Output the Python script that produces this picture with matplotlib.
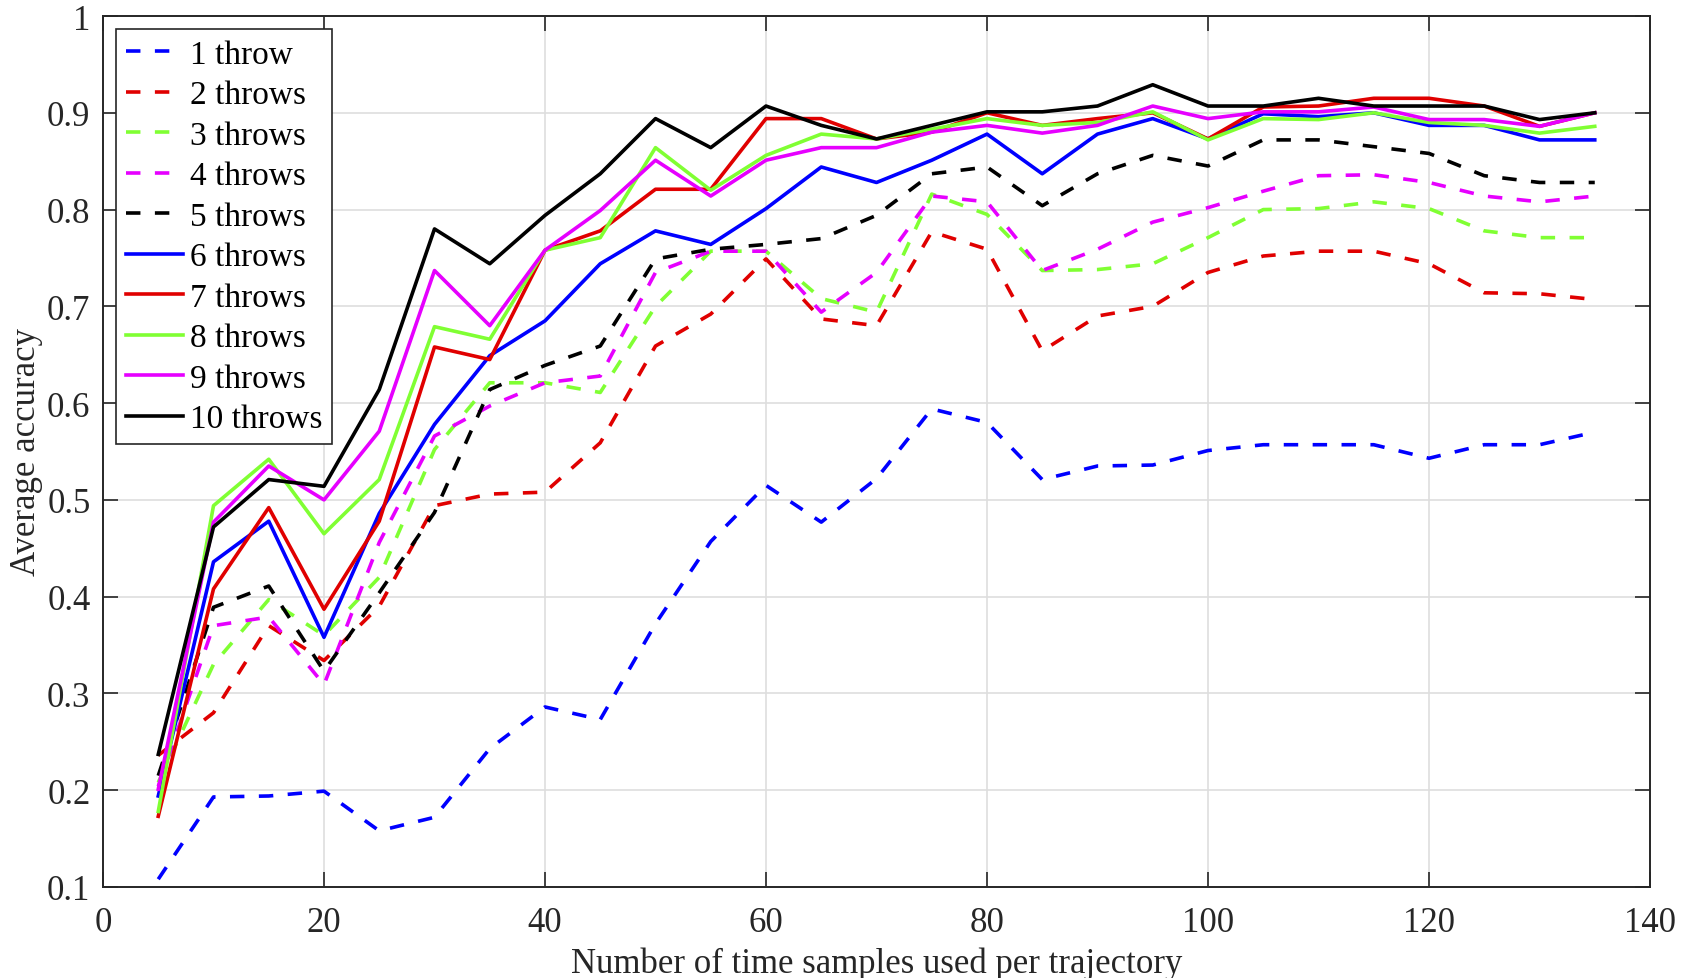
import matplotlib
matplotlib.use("Agg")
import matplotlib.pyplot as plt

plt.rcParams['font.family'] = ['Liberation Serif', 'DejaVu Serif']

samples = [5, 10, 15, 20, 25, 30, 35, 40, 45, 50, 55, 60, 65, 70,
           75, 80, 85, 90, 95, 100, 105, 110, 115, 120, 125, 130, 135]

t1 = [0.108, 0.193, 0.194, 0.199, 0.158, 0.172, 0.243, 0.286, 0.273, 0.372, 0.457, 0.515, 0.477, 0.522,
      0.594, 0.580, 0.521, 0.535, 0.536, 0.551, 0.557, 0.557, 0.557, 0.543, 0.557, 0.557, 0.570]
t2 = [0.236, 0.280, 0.370, 0.334, 0.390, 0.494, 0.506, 0.508, 0.559, 0.659, 0.692, 0.749, 0.687, 0.680,
      0.777, 0.759, 0.654, 0.690, 0.700, 0.735, 0.752, 0.757, 0.757, 0.744, 0.714, 0.713, 0.707]
t3 = [0.208, 0.330, 0.397, 0.360, 0.420, 0.552, 0.621, 0.621, 0.611, 0.700, 0.757, 0.757, 0.708, 0.694,
      0.816, 0.795, 0.737, 0.738, 0.744, 0.771, 0.800, 0.801, 0.808, 0.801, 0.778, 0.771, 0.771]
t4 = [0.204, 0.370, 0.379, 0.309, 0.456, 0.566, 0.597, 0.621, 0.628, 0.735, 0.757, 0.757, 0.694, 0.735,
      0.814, 0.808, 0.737, 0.759, 0.787, 0.802, 0.819, 0.835, 0.836, 0.828, 0.814, 0.808, 0.814]
t5 = [0.215, 0.389, 0.411, 0.323, 0.404, 0.487, 0.614, 0.639, 0.659, 0.749, 0.759, 0.764, 0.770, 0.794,
      0.837, 0.844, 0.804, 0.837, 0.856, 0.845, 0.872, 0.872, 0.865, 0.858, 0.835, 0.828, 0.828]
t6 = [0.194, 0.436, 0.478, 0.358, 0.486, 0.578, 0.649, 0.685, 0.744, 0.778, 0.764, 0.801, 0.844, 0.828,
      0.851, 0.878, 0.837, 0.878, 0.894, 0.873, 0.899, 0.896, 0.900, 0.887, 0.887, 0.872, 0.872]
t7 = [0.173, 0.408, 0.492, 0.387, 0.478, 0.658, 0.645, 0.758, 0.778, 0.821, 0.821, 0.894, 0.894, 0.873,
      0.880, 0.900, 0.887, 0.894, 0.900, 0.873, 0.906, 0.907, 0.915, 0.915, 0.907, 0.886, 0.900]
t8 = [0.178, 0.494, 0.542, 0.465, 0.521, 0.679, 0.666, 0.758, 0.771, 0.864, 0.820, 0.856, 0.878, 0.873,
      0.883, 0.894, 0.887, 0.890, 0.901, 0.872, 0.894, 0.893, 0.900, 0.890, 0.887, 0.879, 0.886]
t9 = [0.201, 0.477, 0.535, 0.500, 0.571, 0.737, 0.680, 0.758, 0.799, 0.851, 0.814, 0.851, 0.864, 0.864,
      0.880, 0.887, 0.879, 0.887, 0.907, 0.894, 0.901, 0.901, 0.906, 0.893, 0.893, 0.886, 0.900]
t10 = [0.237, 0.472, 0.521, 0.514, 0.614, 0.780, 0.744, 0.794, 0.837, 0.894, 0.864, 0.907, 0.887, 0.873,
       0.887, 0.901, 0.901, 0.907, 0.929, 0.907, 0.907, 0.915, 0.907, 0.907, 0.907, 0.893, 0.900]

labels = ["1 throw", "2 throws", "3 throws", "4 throws", "5 throws",
          "6 throws", "7 throws", "8 throws", "9 throws", "10 throws"]
series = [t1, t2, t3, t4, t5, t6, t7, t8, t9, t10]
colors = ['#0000ff', '#e00000', '#80ff33', '#e600ff', '#000000'] * 2

xticks = [0, 20, 40, 60, 80, 100, 120, 140]
yticks = [0.1, 0.2, 0.3, 0.4, 0.5, 0.6, 0.7, 0.8, 0.9, 1.0]
ytick_labels = ["0.1", "0.2", "0.3", "0.4", "0.5", "0.6", "0.7", "0.8", "0.9", "1"]

axcol = '#262626'

fig = plt.figure(figsize=(16.83, 9.79), dpi=100)
ax = fig.add_axes([0.0612, 0.093, 0.9192, 0.8896])

for i, (ys, lab) in enumerate(zip(series, labels)):
    if i < 5:
        ax.plot(samples, ys, color=colors[i], lw=2.6, ls=(0, (4, 4)), label=lab)
    else:
        ax.plot(samples, ys, color=colors[i], lw=2.6, label=lab)

ax.set_xlim(0, 140)
ax.set_ylim(0.1, 1.0)
ax.set_xticks(xticks)
ax.set_yticks(yticks)
ax.set_yticklabels(ytick_labels)
ax.grid(True, color='#dedede', lw=1.2)
ax.set_axisbelow(True)

ax.tick_params(direction='in', length=11, width=1.2, colors=axcol,
               labelsize=25, top=True, right=True, pad=9)
ax.tick_params(axis='x', pad=14)
for sp in ax.spines.values():
    sp.set_color(axcol)
    sp.set_linewidth(1.4)

ax.set_xlabel("Number of time samples used per trajectory", fontsize=25, color=axcol, labelpad=5)
ax.set_ylabel("Average accuracy", fontsize=25, color=axcol, labelpad=3)

leg = ax.legend(loc='upper left', fontsize=24, fancybox=False, framealpha=1,
                edgecolor=axcol, handlelength=1.7, handletextpad=0.2,
                labelspacing=0.30, borderpad=0.3, borderaxespad=0.4)
leg.get_frame().set_linewidth(1.2)

fig.savefig("out.png", dpi=100)
